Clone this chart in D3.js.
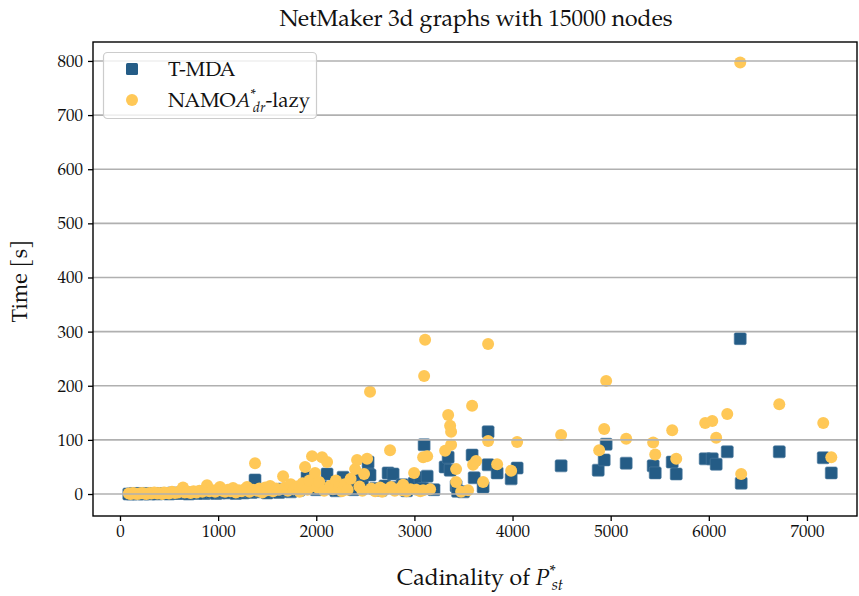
<!DOCTYPE html>
<html>
<head>
<meta charset="utf-8">
<script src="https://cdn.jsdelivr.net/npm/d3@7"></script>
<style>
  body { margin: 0; background: #fff; }
  svg text { font-family: "TeX Gyre Pagella", "Palatino Linotype", Palatino, "Liberation Serif", serif; fill: #111; }
</style>
</head>
<body>
<div id="chart"></div>
<script>
// Series values (x = cardinality, y = time in s)
const tmdaX = [90, 120, 150, 180, 210, 240, 270, 300, 340, 380, 420, 460, 500, 540, 580, 620, 660, 700, 740, 780, 820, 860, 900, 940, 980, 1020, 1060, 1100, 1140, 1180, 1220, 1260, 1300, 1340, 1376, 1420, 1460, 1500, 1540, 1580, 1620, 1660, 1700, 1740, 1780, 1820, 1860, 1906, 1957, 2000, 2050, 2110, 2150, 2200, 2273, 2320, 2380, 2416, 2470, 2528, 2528, 2548, 2600, 2660, 2700, 2732, 2783, 2820, 2875, 2920, 2997, 3058, 3089, 3099, 3130, 3200, 3313, 3344, 3364, 3425, 3440, 3500, 3588, 3609, 3700, 3751, 3751, 3843, 3986, 4047, 4495, 4873, 4934, 4954, 5158, 5433, 5454, 5627, 5668, 5963, 6035, 6075, 6188, 6320, 6330, 6718, 7166, 7248];
const tmdaY = [0, 0, 1, 0, 1, 0, 1, 0, 1, 0, 1, 1, 0, 2, 1, 1, 2, 0, 2, 1, 3, 1, 2, 3, 1, 2, 4, 2, 3, 1, 4, 2, 5, 3, 26, 4, 6, 2, 8, 5, 3, 9, 6, 4, 10, 7, 12, 31, 26, 8, 14, 37, 10, 6, 31, 12, 8, 30, 15, 39, 59, 35, 10, 7, 15, 39, 37, 12, 17, 6, 20, 30, 10, 91, 33, 8, 50, 68, 44, 15, 5, 4, 72, 30, 13, 115, 54, 39, 28, 48, 52, 44, 63, 92, 57, 52, 39, 59, 37, 65, 65, 55, 78, 287, 20, 78, 67, 39];

const namoaX = [90, 110, 130, 150, 175, 200, 225, 250, 270, 300, 320, 350, 380, 400, 430, 450, 480, 500, 530, 560, 590, 610, 642, 660, 690, 720, 750, 780, 810, 840, 870, 887, 910, 940, 970, 1000, 1019, 1040, 1070, 1100, 1130, 1152, 1180, 1210, 1240, 1270, 1295, 1320, 1350, 1376, 1400, 1420, 1450, 1480, 1500, 1530, 1560, 1590, 1620, 1662, 1680, 1710, 1740, 1770, 1800, 1830, 1860, 1886, 1910, 1930, 1957, 1988, 2010, 2030, 2059, 2080, 2110, 2140, 2170, 2200, 2230, 2260, 2290, 2320, 2350, 2396, 2416, 2440, 2470, 2487, 2518, 2548, 2560, 2600, 2650, 2671, 2700, 2752, 2762, 2800, 2850, 2875, 2885, 2920, 2960, 2997, 3020, 3060, 3089, 3089, 3099, 3109, 3130, 3160, 3313, 3344, 3364, 3374, 3374, 3425, 3425, 3476, 3547, 3588, 3598, 3629, 3700, 3751, 3751, 3843, 3986, 4047, 4495, 4883, 4934, 4954, 5158, 5433, 5454, 5627, 5668, 5963, 6035, 6075, 6188, 6320, 6330, 6718, 7166, 7248];
const namoaY = [1, 0, 2, 1, 0, 1, 2, 1, 0, 2, 1, 3, 1, 2, 0, 3, 2, 1, 4, 2, 3, 5, 12, 3, 4, 2, 5, 3, 6, 4, 8, 16, 5, 7, 4, 9, 13, 6, 4, 8, 5, 11, 3, 7, 5, 9, 13, 4, 8, 57, 6, 10, 3, 12, 7, 15, 5, 10, 8, 33, 12, 6, 18, 9, 14, 4, 20, 50, 8, 25, 70, 39, 12, 22, 68, 6, 59, 15, 9, 25, 12, 5, 18, 8, 28, 46, 63, 14, 6, 37, 65, 189, 10, 5, 12, 4, 8, 81, 13, 6, 10, 7, 17, 5, 9, 39, 8, 5, 68, 7, 218, 285, 70, 9, 80, 146, 126, 115, 91, 46, 22, 4, 7, 163, 54, 61, 22, 277, 98, 55, 43, 96, 109, 81, 120, 209, 102, 95, 73, 118, 65, 131, 135, 104, 148, 797, 37, 166, 131, 68];

const yTicks = [0, 100, 200, 300, 400, 500, 600, 700, 800];
const xTicks = [0, 1000, 2000, 3000, 4000, 5000, 6000, 7000];

const width = 859, height = 596;
const plot = { left: 93, right: 857, top: 42, bottom: 516 };
const serif = "\"TeX Gyre Pagella\", \"Palatino Linotype\", Palatino, \"Liberation Serif\", serif";

const svg = d3.select("#chart").append("svg")
  .attr("width", width)
  .attr("height", height);

const x = d3.scaleLinear().domain([-275, 7510]).range([plot.left, plot.right]);
const y = d3.scaleLinear().domain([-40.6, 835]).range([plot.bottom, plot.top]);

const tmda = tmdaX.map((v, i) => ({ x: v, y: tmdaY[i] }));
const namoa = namoaX.map((v, i) => ({ x: v, y: namoaY[i] }));

const blue = "#245c86", yellow = "#ffc857";
const sq = 12;

// T-MDA squares first, then NAMOA circles on top
svg.append("g").selectAll("rect")
  .data(tmda)
  .enter().append("rect")
    .attr("x", d => x(d.x) - sq / 2)
    .attr("y", d => y(d.y) - sq / 2)
    .attr("width", sq)
    .attr("height", sq)
    .attr("rx", 1.5)
    .attr("fill", blue)
    .attr("stroke", "#4f7ca0")
    .attr("stroke-width", 0.6);

svg.append("g").selectAll("circle")
  .data(namoa)
  .enter().append("circle")
    .attr("cx", d => x(d.x))
    .attr("cy", d => y(d.y))
    .attr("r", 6)
    .attr("fill", yellow);

// Horizontal grid sits above the markers
svg.append("g").selectAll("line")
  .data(yTicks)
  .enter().append("line")
    .attr("x1", plot.left)
    .attr("x2", plot.right)
    .attr("y1", d => y(d))
    .attr("y2", d => y(d))
    .attr("stroke", "#b0b0b0")
    .attr("stroke-width", 1.6);

// Axes
const xAxis = svg.append("g")
  .attr("transform", "translate(0," + plot.bottom + ")")
  .call(d3.axisBottom(x).tickValues(xTicks).tickSize(5).tickPadding(4).tickFormat(d3.format("d")));
const yAxis = svg.append("g")
  .attr("transform", "translate(" + plot.left + ",0)")
  .call(d3.axisLeft(y).tickValues(yTicks).tickSize(5).tickPadding(5).tickFormat(d3.format("d")));

[xAxis, yAxis].forEach(a => {
  a.select(".domain").remove();
  a.selectAll(".tick line").attr("stroke", "#000").attr("stroke-width", 1.3);
  a.selectAll(".tick text")
    .style("font-size", "17px")
    .style("font-family", serif)
    .attr("fill", "#111");
});

// Frame
svg.append("rect")
  .attr("x", plot.left)
  .attr("y", plot.top)
  .attr("width", plot.right - plot.left)
  .attr("height", plot.bottom - plot.top)
  .attr("fill", "none")
  .attr("stroke", "#000")
  .attr("stroke-width", 1.4);

// Title
svg.append("text")
  .attr("x", 476)
  .attr("y", 26)
  .attr("text-anchor", "middle")
  .style("font-size", "23px")
  .text("NetMaker 3d graphs with 15000 nodes");

// Y axis label
svg.append("text")
  .attr("transform", "translate(27,281) rotate(-90)")
  .attr("text-anchor", "middle")
  .style("font-size", "22px")
  .text("Time [s]");

// X axis label with P*_st
const xl = svg.append("text")
  .attr("x", 480)
  .attr("y", 585)
  .attr("text-anchor", "middle")
  .style("font-size", "23px");
xl.append("tspan").text("Cadinality of ");
xl.append("tspan").style("font-style", "italic").text("P");
xl.append("tspan").attr("dy", -9).style("font-size", "16px").text("*");
xl.append("tspan").attr("dx", -4).attr("dy", 14).style("font-size", "16px").style("font-style", "italic").text("st");

// Legend
const lg = svg.append("g");
lg.append("rect")
  .attr("x", 103.5).attr("y", 52.5)
  .attr("width", 213).attr("height", 66)
  .attr("rx", 4)
  .attr("fill", "#fff").attr("fill-opacity", 0.8)
  .attr("stroke", "#cccccc").attr("stroke-width", 1.2);
lg.append("rect")
  .attr("x", 132 - sq / 2).attr("y", 69 - sq / 2)
  .attr("width", sq).attr("height", sq).attr("rx", 1.5)
  .attr("fill", blue);
lg.append("circle").attr("cx", 132).attr("cy", 100).attr("r", 6).attr("fill", yellow);
lg.append("text").attr("x", 168).attr("y", 76).style("font-size", "20.5px").text("T-MDA");
const nl = lg.append("text").attr("x", 168).attr("y", 107).style("font-size", "20.5px");
nl.append("tspan").text("NAMO");
nl.append("tspan").style("font-style", "italic").text("A");
nl.append("tspan").attr("dy", -8).style("font-size", "14px").text("*");
nl.append("tspan").attr("dx", -3).attr("dy", 13).style("font-size", "14px").style("font-style", "italic").text("dr");
nl.append("tspan").attr("dy", -5).text("-lazy");
</script>
</body>
</html>
